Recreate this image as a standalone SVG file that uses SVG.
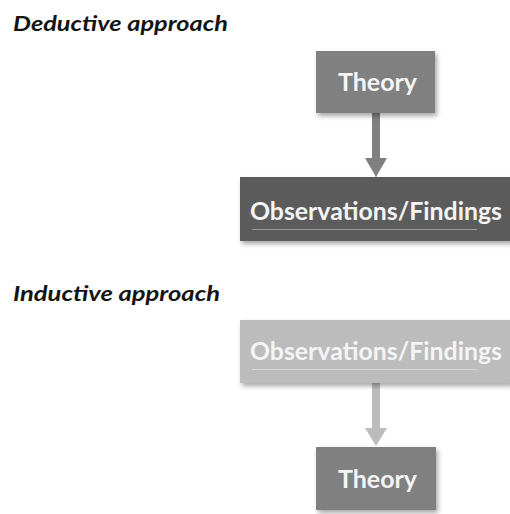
<svg xmlns="http://www.w3.org/2000/svg" width="510" height="514" viewBox="0 0 510 514">
  <defs>
    <filter id="shadow" x="-10%" y="-20%" width="130%" height="150%">
      <feDropShadow dx="2" dy="3" stdDeviation="2.5" flood-color="#000" flood-opacity="0.35"/>
    </filter>
  </defs>
  <style>
    .title { font-family: Lato, "Liberation Sans", sans-serif; font-weight: bold; font-style: italic; font-size: 20px; fill: #151515; }
    .label { font-family: Lato, "Liberation Sans", sans-serif; font-weight: bold; font-size: 25px; fill: #f4f4f4; }
    .box { filter: url(#shadow); }
    .mid { fill: #808080; }
    .dark { fill: #5c5c5c; }
    .light { fill: #bcbcbc; }
    .uline { stroke: #9a9a9a; stroke-width: 1; }
    .uline-l { stroke: #d6d6d6; stroke-width: 1; }
  </style>
  <rect width="510" height="514" fill="#ffffff"/>

  <!-- Section titles -->
  <text class="title" x="13" y="31" textLength="215" lengthAdjust="spacingAndGlyphs">Deductive approach</text>
  <text class="title" x="13" y="301" textLength="207" lengthAdjust="spacingAndGlyphs">Inductive approach</text>

  <!-- Connectors -->
  <g id="connectors">
    <path class="mid" d="M372,113 H380 V158 H387 L376,177 L365,158 H372 Z"/>
    <path class="light" d="M372,383 H380 V428 H387 L376,446 L365,428 H372 Z"/>
  </g>

  <!-- Deductive: Theory -->
  <g id="deductive-theory">
    <rect class="box mid" x="316" y="51" width="119" height="62"/>
    <text class="label" x="338" y="91" textLength="79" lengthAdjust="spacingAndGlyphs">Theory</text>
  </g>

  <!-- Deductive: Observations/Findings -->
  <g id="deductive-observations">
    <rect class="box dark" x="240" y="177" width="272" height="64"/>
    <text class="label" x="250" y="220" textLength="252" lengthAdjust="spacingAndGlyphs">Observations/Findings</text>
    <line class="uline" x1="252" y1="229.5" x2="477" y2="229.5"/>
  </g>

  <!-- Inductive: Observations/Findings -->
  <g id="inductive-observations">
    <rect class="box light" x="240" y="320" width="272" height="63"/>
    <text class="label" x="250" y="360" textLength="252" lengthAdjust="spacingAndGlyphs">Observations/Findings</text>
    <line class="uline-l" x1="252" y1="369.5" x2="477" y2="369.5"/>
  </g>

  <!-- Inductive: Theory -->
  <g id="inductive-theory">
    <rect class="box mid" x="316" y="447" width="120" height="63"/>
    <text class="label" x="338" y="488" textLength="79" lengthAdjust="spacingAndGlyphs">Theory</text>
  </g>
</svg>
